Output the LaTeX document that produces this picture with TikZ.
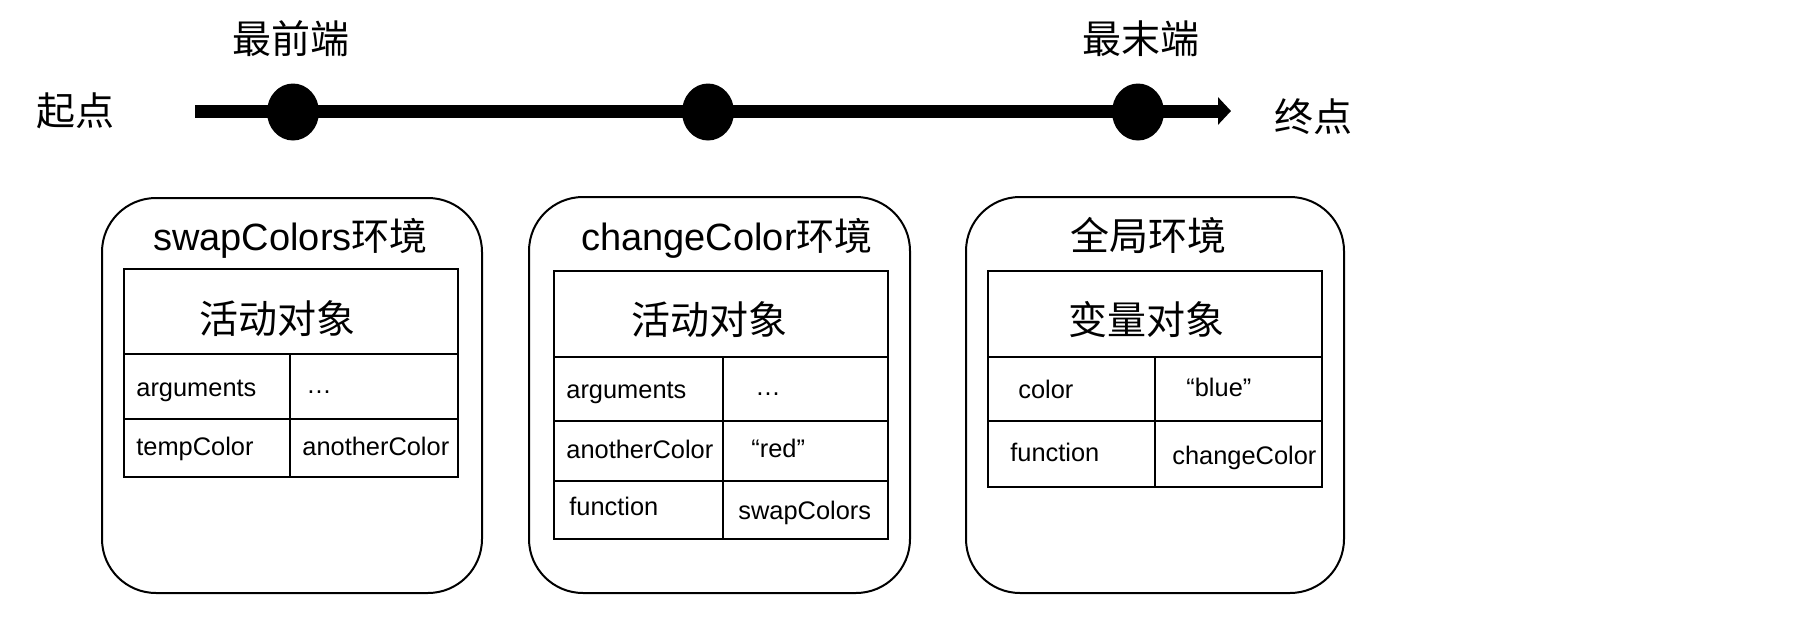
\documentclass[tikz,border=0pt]{standalone}
\usepackage{fontspec}
\setmainfont{Liberation Sans}
\newfontfamily\cjk{Noto Sans CJK SC}
\usetikzlibrary{arrows.meta,shapes.geometric}
\begin{document}
\begin{tikzpicture}[x=0.5pt,y=-0.5pt,
  big/.style={font=\fontsize{19.5}{20}\cjk, inner sep=0},
  ttl/.style={font=\fontsize{19}{20}\selectfont, inner sep=0},
  cell/.style={font=\fontsize{12.7}{14}\selectfont, inner sep=0, anchor=west},
  envbox/.style={draw, line width=1pt, rounded corners=27pt},
  tbl/.style={draw, line width=1.2pt},
  dot/.style={ellipse, fill=black, minimum width=26pt, minimum height=28.5pt, inner sep=0}]
\useasboundingbox (0,0) rectangle (1820,616);

% timeline
\node[big] (start) at (75,111) {起点};
\node[big] (finish) at (1313,117) {终点};
\coordinate (ls) at (195,111);
\coordinate (le) at (1231,111);
\draw[line width=6.5pt, -{Triangle[length=6.5pt,width=13.5pt]}] (ls) -- (le);
\node[dot] (d1) at (293,112) {};
\node[dot] (d2) at (708,112) {};
\node[dot] (d3) at (1138,112) {};
\node[big] (front) at (291,39) {最前端};
\node[big] (back) at (1141,39) {最末端};

% environment boxes
\draw[envbox] (102,198) rectangle (482,593);
\draw[envbox] (529,197) rectangle (910,593);
\draw[envbox] (966,197) rectangle (1344,593);

\node[ttl] (t1) at (290.5,238) {swapColors{\cjk 环境}};
\node[ttl] (t2) at (727,238) {changeColor{\cjk 环境}};
\node[big] (t3) at (1148,236) {全局环境};

% table 1
\draw[tbl] (124,269) rectangle (458,477);
\draw[tbl] (124,354) -- (458,354);
\draw[tbl] (124,419) -- (458,419);
\draw[tbl] (290,354) -- (290,477);
\node[big] (ao1) at (277.5,319) {活动对象};
\node[cell] (a1) at (136,391) {arguments};
\node[cell] (a1v) at (306,392) {…};
\node[cell] (tc1) at (136,449) {tempColor};
\node[cell] (tc1v) at (302,446) {anotherColor};

% table 2
\draw[tbl] (554,271) rectangle (888,539);
\draw[tbl] (554,357) -- (888,357);
\draw[tbl] (554,421) -- (888,421);
\draw[tbl] (554,481) -- (888,481);
\draw[tbl] (723,357) -- (723,539);
\node[big] (ao2) at (709,320) {活动对象};
\node[cell] (a2) at (566,393) {arguments};
\node[cell] (a2v) at (755,394) {…};
\node[cell] (ac2) at (566,449) {anotherColor};
\node[cell] (ac2v) at (751,448) {“red”};
\node[cell] (f2) at (569,506) {function};
\node[cell] (f2v) at (738,513) {swapColors};

% table 3
\draw[tbl] (988,271) rectangle (1322,487);
\draw[tbl] (988,357) -- (1322,357);
\draw[tbl] (988,421) -- (1322,421);
\draw[tbl] (1155,357) -- (1155,487);
\node[big] (vo3) at (1146,320) {变量对象};
\node[cell] (c3) at (1018,389) {color};
\node[cell] (c3v) at (1186,387) {“blue”};
\node[cell] (f3) at (1010,452) {function};
\node[cell] (f3v) at (1172,458) {changeColor};
\end{tikzpicture}
\end{document}
